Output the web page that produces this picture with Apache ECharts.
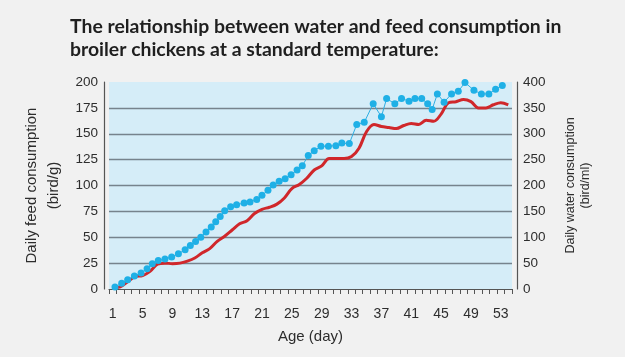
<!DOCTYPE html>
<html>
<head>
<meta charset="utf-8">
<script src="https://cdn.jsdelivr.net/npm/echarts@6/dist/echarts.min.js"></script>
<style>
html,body{margin:0;padding:0;background:#f1f1f1;}
#chart{width:625px;height:357px;}
</style>
</head>
<body>
<div id="chart"></div>
<script>
// Age in days (category axis)
const days = [];
for (let d = 1; d <= 54; d++) days.push(String(d));

// Daily feed consumption (bird/g), one value per day 1..54
const feed = [1,2,7,12,13,17,24,25,24.5,25,27,30,35,39,46,51,57,63,66,73,77,79,82,88,97,101,107,115,119,126,126,126,128,136,152,159,157,156,155,158,160,159,163,162,169,180,181,183,181,175,175,178,180,178];

// Daily water consumption (bird/ml): measurement day and value
const waterDay = [1.3,2.2,3.0,3.9,4.8,5.6,6.3,7.1,8.0,8.9,9.8,10.7,11.4,12.1,12.8,13.5,14.2,14.8,15.4,16.0,16.8,17.6,18.6,19.4,20.3,21.0,21.8,22.5,23.3,24.1,24.9,25.7,26.4,27.2,28.0,28.9,29.9,30.9,31.7,32.7,33.7,34.7,35.9,37.0,37.7,38.8,39.7,40.7,41.5,42.4,43.2,43.8,44.5,45.4,46.4,47.3,48.2,49.4,50.4,51.4,52.3,53.2];
const water = [4,11,18,25,31,39,49,55,58,62,68,76,84,92,100,110,120,130,140,151,159,163,166,168,173,181,191,201,208,213,221,230,238,258,267,276,276,277,282,281,318,322,358,333,368,358,368,363,368,368,358,347,377,361,377,382,399,384,377,377,386,393];

// Axis tick labels
const feedTicks = [0,25,50,75,100,125,150,175,200];
const waterTicks = [0,50,100,150,200,250,300,350,400];

const titleText = 'The relationship between water and feed consumption in\nbroiler chickens at a standard temperature:';

const chart = echarts.init(document.getElementById('chart'), null, {renderer:'canvas'});
const labelFont = 'Liberation Sans, Arial, sans-serif';

chart.setOption({
  backgroundColor: '#f1f1f1',
  animation: false,
  title: {
    text: titleText,
    left: 65,
    top: 10,
    textStyle: {
      fontFamily: 'Lato, sans-serif',
      fontWeight: 'bold',
      fontSize: 19.4,
      lineHeight: 23,
      color: '#1f1f1f'
    }
  },
  grid: {
    left: 109, right: 113, top: 82, bottom: 68,
    show: true, backgroundColor: '#d5edf8', borderWidth: 0
  },
  xAxis: [
    {
      type: 'category',
      data: days,
      boundaryGap: true,
      offset: 4,
      axisLine: {lineStyle: {color: '#555', width: 1.2}},
      axisTick: {show: true, interval: 0, length: 5, lineStyle: {color: '#555'}},
      axisLabel: {interval: 3, margin: 14, fontFamily: labelFont, fontSize: 14, color: '#2d2d2d'},
      splitLine: {show: false},
      name: 'Age (day)',
      nameLocation: 'middle',
      nameGap: 36,
      nameTextStyle: {fontFamily: labelFont, fontSize: 15, color: '#2d2d2d'}
    },
    {
      type: 'value',
      min: 0.5, max: 54.5,
      show: false
    }
  ],
  yAxis: [
    {
      type: 'value',
      min: feedTicks[0], max: feedTicks[feedTicks.length-1], interval: 25,
      offset: 5,
      axisLine: {show: true, lineStyle: {color: '#555', width: 1.2}},
      axisTick: {show: false},
      axisLabel: {margin: 6, fontFamily: labelFont, fontSize: 13.5, color: '#2d2d2d'},
      splitLine: {show: true, showMinLine: false, showMaxLine: false, lineStyle: {color: '#76838d', width: 1.3}},
      name: 'Daily feed consumption\n(bird/g)',
      nameLocation: 'middle',
      nameRotate: 90,
      nameGap: 39,
      nameTextStyle: {fontFamily: labelFont, fontSize: 15, lineHeight: 22, color: '#2d2d2d', align: 'center'}
    },
    {
      type: 'value',
      min: waterTicks[0], max: waterTicks[waterTicks.length-1], interval: 50,
      offset: 5,
      position: 'right',
      axisLine: {show: true, lineStyle: {color: '#555', width: 1.2}},
      axisTick: {show: false},
      axisLabel: {margin: 6, fontFamily: labelFont, fontSize: 13.5, color: '#2d2d2d'},
      splitLine: {show: false},
      name: 'Daily water consumption\n(bird/ml)',
      nameLocation: 'middle',
      nameRotate: 90,
      nameGap: 46,
      nameTextStyle: {fontFamily: labelFont, fontSize: 12.5, lineHeight: 15, color: '#2d2d2d', align: 'center'}
    }
  ],
  series: [
    {
      name: 'Feed',
      type: 'line',
      xAxisIndex: 0,
      yAxisIndex: 0,
      data: feed,
      smooth: 0.35,
      showSymbol: false,
      symbol: 'none',
      lineStyle: {color: '#d0272b', width: 3},
      z: 2
    },
    {
      name: 'Water',
      type: 'line',
      xAxisIndex: 1,
      yAxisIndex: 1,
      data: waterDay.map((d, i) => [d, water[i]]),
      symbol: 'circle',
      symbolSize: 7,
      lineStyle: {color: '#2eaee2', width: 1},
      itemStyle: {color: '#1fb0e6', borderWidth: 0},
      z: 3
    }
  ]
});
</script>
</body>
</html>
